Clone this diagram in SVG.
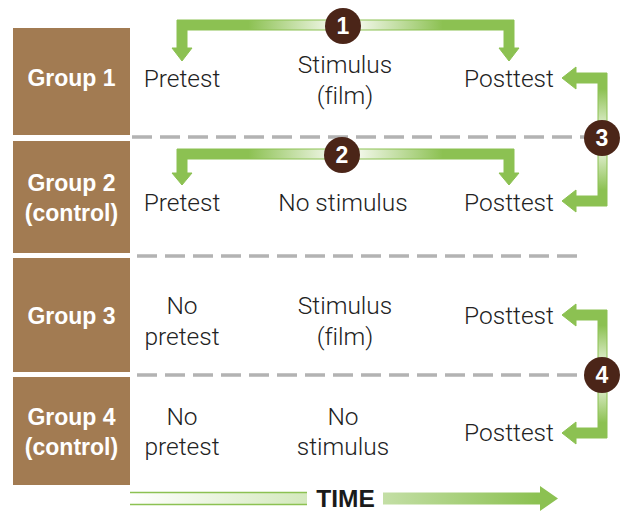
<svg xmlns="http://www.w3.org/2000/svg" width="621" height="511" viewBox="0 0 621 511">
<style>
.box{fill:#a27b52}
.gl{font-family:"Liberation Sans",Arial,sans-serif;font-weight:bold;font-size:23px;fill:#fff;text-anchor:middle}
.t{font-family:Roboto,"Liberation Sans",sans-serif;font-weight:300;font-size:24.5px;fill:#222;text-anchor:middle;font-variant-ligatures:none}
.dash{stroke:#b3b3b3;stroke-width:3.5;stroke-dasharray:20 8;fill:none}
.arr{stroke:#8cc152;stroke-width:1}
.num{fill:#4b2518}
.nt{font-family:"Liberation Sans",Arial,sans-serif;font-weight:bold;font-size:23px;fill:#fff;text-anchor:middle}
.time{font-family:"Liberation Sans",Arial,sans-serif;font-weight:bold;font-size:24.5px;fill:#1a1a1a;text-anchor:middle}
</style>
<defs>
<linearGradient id="gh" gradientUnits="userSpaceOnUse" x1="172" y1="0" x2="519" y2="0">
<stop offset="0" stop-color="#8cc152"/><stop offset="0.22" stop-color="#8cc152"/><stop offset="0.47" stop-color="#f5f9ee"/><stop offset="0.53" stop-color="#f5f9ee"/><stop offset="0.78" stop-color="#8cc152"/><stop offset="1" stop-color="#8cc152"/>
</linearGradient>
<linearGradient id="gv3" gradientUnits="userSpaceOnUse" x1="0" y1="73" x2="0" y2="206">
<stop offset="0" stop-color="#8cc152"/><stop offset="0.12" stop-color="#8cc152"/><stop offset="0.45" stop-color="#eef6e3"/><stop offset="0.55" stop-color="#eef6e3"/><stop offset="0.88" stop-color="#8cc152"/><stop offset="1" stop-color="#8cc152"/>
</linearGradient>
<linearGradient id="gv4" gradientUnits="userSpaceOnUse" x1="0" y1="310" x2="0" y2="438">
<stop offset="0" stop-color="#8cc152"/><stop offset="0.12" stop-color="#8cc152"/><stop offset="0.45" stop-color="#eef6e3"/><stop offset="0.55" stop-color="#eef6e3"/><stop offset="0.88" stop-color="#8cc152"/><stop offset="1" stop-color="#8cc152"/>
</linearGradient>
<linearGradient id="gt" gradientUnits="userSpaceOnUse" x1="130" y1="0" x2="558" y2="0">
<stop offset="0" stop-color="#ffffff"/><stop offset="0.41" stop-color="#d4e9bd"/><stop offset="0.59" stop-color="#c4dfa6"/><stop offset="0.95" stop-color="#8cc152"/><stop offset="1" stop-color="#8cc152"/>
</linearGradient>
</defs>

<g id="dividers">
<line class="dash" x1="132" y1="137" x2="585" y2="137"/>
<line class="dash" x1="137" y1="256" x2="585" y2="256"/>
<line class="dash" x1="137" y1="375" x2="585" y2="375"/>
</g>

<g id="group1"><rect class="box" x="13" y="28" width="117" height="107"/><text class="gl" x="71.5" y="86">Group 1</text></g>
<g id="group2"><rect class="box" x="13" y="141" width="117" height="112"/><text class="gl" x="71.5" y="191">Group 2</text><text class="gl" x="71.5" y="221">(control)</text></g>
<g id="group3"><rect class="box" x="13" y="258" width="117" height="114"/><text class="gl" x="71.5" y="324">Group 3</text></g>
<g id="group4"><rect class="box" x="13" y="377" width="117" height="108"/><text class="gl" x="71.5" y="425">Group 4</text><text class="gl" x="71.5" y="455">(control)</text></g>

<g id="row1">
<text class="t" x="182" y="87">Pretest</text>
<text class="t" x="345" y="73">Stimulus</text>
<text class="t" x="345" y="104">(film)</text>
<text class="t" x="509" y="87">Posttest</text>
</g>
<g id="row2">
<text class="t" x="182" y="211">Pretest</text>
<text class="t" x="343" y="211">No stimulus</text>
<text class="t" x="509" y="211">Posttest</text>
</g>
<g id="row3">
<text class="t" x="182" y="314">No</text>
<text class="t" x="182" y="345">pretest</text>
<text class="t" x="345" y="314">Stimulus</text>
<text class="t" x="345" y="345">(film)</text>
<text class="t" x="509" y="324">Posttest</text>
</g>
<g id="row4">
<text class="t" x="182" y="425">No</text>
<text class="t" x="182" y="455">pretest</text>
<text class="t" x="343" y="425">No</text>
<text class="t" x="343" y="455">stimulus</text>
<text class="t" x="509" y="441">Posttest</text>
</g>

<g id="connectors">
<path class="arr" fill="url(#gh)" d="M177,20 H514 V48 H519 L509,61 L499,48 H504 V30 H187 V48 H192 L182,61 L172,48 H177 Z"/>
<path class="arr" fill="url(#gh)" d="M177,149 H514 V173 H519 L509,185 L499,173 H504 V159 H187 V173 H192 L182,185 L172,173 H177 Z"/>
<path class="arr" fill="url(#gv3)" d="M607,73 V206 H576 V212 L562,201 L576,190 V196 H598 V83 H576 V89 L562,78 L576,67 V73 Z"/>
<path class="arr" fill="url(#gv4)" d="M607,310 V438 H576 V444 L562,433 L576,422 V428 H598 V320 H576 V326 L562,315 L576,304 V310 Z"/>
</g>

<g id="badge1"><circle class="num" cx="343" cy="26" r="18"/><text class="nt" x="343" y="34">1</text></g>
<g id="badge2"><circle class="num" cx="342" cy="155" r="18"/><text class="nt" x="342" y="163">2</text></g>
<g id="badge3"><circle class="num" cx="602" cy="138" r="18"/><text class="nt" x="602" y="146">3</text></g>
<g id="badge4"><circle class="num" cx="602" cy="375" r="18"/><text class="nt" x="602" y="383">4</text></g>

<g id="time">
<rect x="130" y="492.5" width="177" height="12" fill="url(#gt)"/>
<line x1="130" y1="492.5" x2="307" y2="492.5" stroke="#8cc152" stroke-width="1.3"/>
<line x1="130" y1="504.5" x2="307" y2="504.5" stroke="#8cc152" stroke-width="1.3"/>
<path d="M383,492.5 H540 V486 L558,498.5 L540,511 V504.5 H383 Z" fill="url(#gt)"/>
<text class="time" x="345.5" y="507">TIME</text>
</g>
</svg>
